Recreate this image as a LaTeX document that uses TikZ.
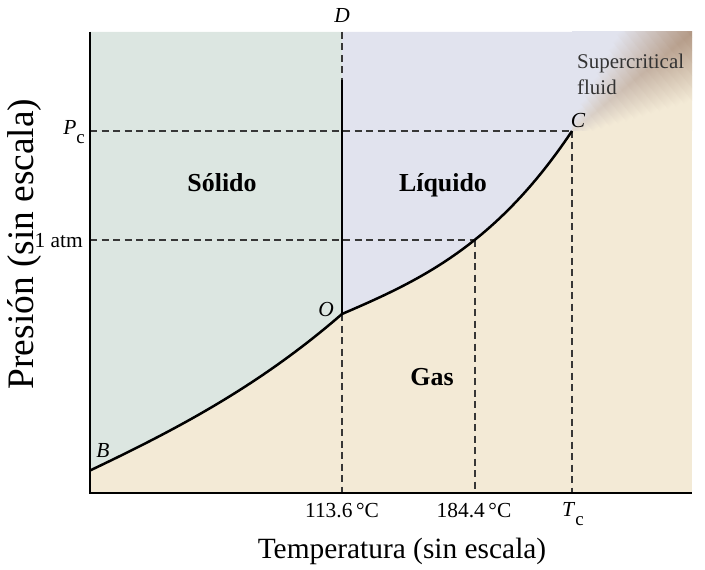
\documentclass[tikz,border=0pt]{standalone}
\usepackage{fontspec}
\setmainfont{Liberation Serif}
\definecolor{solidc}{RGB}{220,230,225}
\definecolor{liqc}{RGB}{225,227,238}
\definecolor{gasc}{RGB}{243,234,214}
\definecolor{brn}{RGB}{178,152,132}
\definecolor{dashc}{RGB}{55,55,55}
\colorlet{midbase}{liqc!50!gasc}
\begin{document}
\begin{tikzpicture}[x=1bp,y=-1bp,
  phase/.style={line width=2.5bp, black},
  axisline/.style={line width=1.4bp, black},
  guide/.style={line width=1.1bp, dashc, dash pattern=on 7bp off 4.5bp},
  lbl/.style={inner sep=0pt, font=\fontsize{21.5}{25}\selectfont},
  region/.style={inner sep=0pt, font=\fontsize{26}{30}\selectfont\bfseries},
  axtitle/.style={inner sep=0pt, font=\fontsize{29.5}{34}\selectfont}]
\useasboundingbox (0,0) rectangle (705,570);
% key points
\coordinate (TL) at (90,32);
\coordinate (BL) at (90,493);
\coordinate (BR) at (692,493);
\coordinate (TR) at (692,32);
\coordinate (B) at (90,470.5);
\coordinate (O) at (342,314);
\coordinate (C) at (572,131);
\coordinate (Dtop) at (342,32);
\coordinate (Dsol) at (342,80);
\coordinate (Ctop) at (572,32);
\coordinate (Cright) at (692,131);
\coordinate (Pcax) at (90,131);
\coordinate (atmax) at (90,240);
\coordinate (Q) at (475,240);
\coordinate (Oax) at (342,493);
\coordinate (Qax) at (475,493);
\coordinate (Tcax) at (572,493);
% regions
\fill[gasc] (TL) rectangle (BR);
\fill[solidc] (TL) -- (Dtop) -- (O) .. controls (258,387) and (174,430.5) .. (B) -- cycle;
\fill[liqc] (Dtop) -- (O) .. controls (418.7,281) and (495.3,246) .. (C) -- (Ctop) -- cycle;
% supercritical gradient
\begin{scope}
  \clip (Ctop) rectangle (Cright);
  \begin{scope}[transform canvas={shift={(572,131)}, rotate=39.5}]
    \fill[liqc] (-100,-250) rectangle (260,0);
    \fill[gasc] (-100,0) rectangle (260,250);
    \foreach \k in {0,...,19} {
      \pgfmathsetmacro\va{\k*8}
      \pgfmathsetmacro\vb{\k*8+8.6}
      \pgfmathsetmacro\w{7+0.42*\k*8}
      \pgfmathtruncatemacro\p{18+82*\k/19}
      \colorlet{midc}{brn!\p!midbase}
      \shade[top color=liqc, bottom color=gasc, middle color=midc] (\va,-\w) rectangle (\vb,\w);
    }
  \end{scope}
\end{scope}
% guide lines
\draw[guide] (Pcax) -- (C);
\draw[guide] (atmax) -- (Q);
\draw[guide] (Dtop) -- (Dsol);
\draw[guide] (O) -- (Oax);
\draw[guide] (Q) -- (Qax);
\draw[guide] (C) -- (Tcax);
% phase boundaries
\draw[phase] (B) .. controls (174,430.5) and (258,387) .. (O)
             .. controls (418.7,281) and (495.3,246) .. (C);
\draw[phase] (O) -- (Dsol);
% axes
\draw[axisline] (TL) -- (BL) -- (BR);
% labels
\node[lbl, anchor=base] (Dl) at (342,23) {\textit{D}};
\node[lbl, anchor=base] (Cl) at (578,128) {\textit{C}};
\node[lbl, anchor=base] (Ol) at (326,316) {\textit{O}};
\node[lbl, anchor=base] (Bl) at (103,457) {\textit{B}};
\node[lbl, anchor=base east] (Pcl) at (85,135) {\textit{P}\raisebox{-0.42em}{\fontsize{19}{20}\selectfont c}};
\node[lbl, anchor=base east] (atml) at (83,247) {1 atm};
\node[lbl, anchor=base] (t1) at (342,517) {113.6\,°C};
\node[lbl, anchor=base] (t2) at (474,517) {184.4\,°C};
\node[lbl, anchor=base west] (tc) at (562,516) {\textit{T}\raisebox{-0.42em}{\fontsize{19}{20}\selectfont c}};
\node[lbl, anchor=base west, align=left, text=black!80, font=\fontsize{21}{27}\selectfont] (sc) at (577,95) {Supercritical\\fluid};
\node[region, anchor=base] (sol) at (222,192) {Sólido};
\node[region, anchor=base] (liq) at (443,192) {Líquido};
\node[region, anchor=base] (gas) at (432,385) {Gas};
\node[axtitle, anchor=base] (xt) at (402,558) {Temperatura (sin escala)};
\node[axtitle, font=\fontsize{37.5}{42}\selectfont, rotate=90, anchor=base] (yt) at (33,244) {Presión (sin escala)};
\end{tikzpicture}
\end{document}
